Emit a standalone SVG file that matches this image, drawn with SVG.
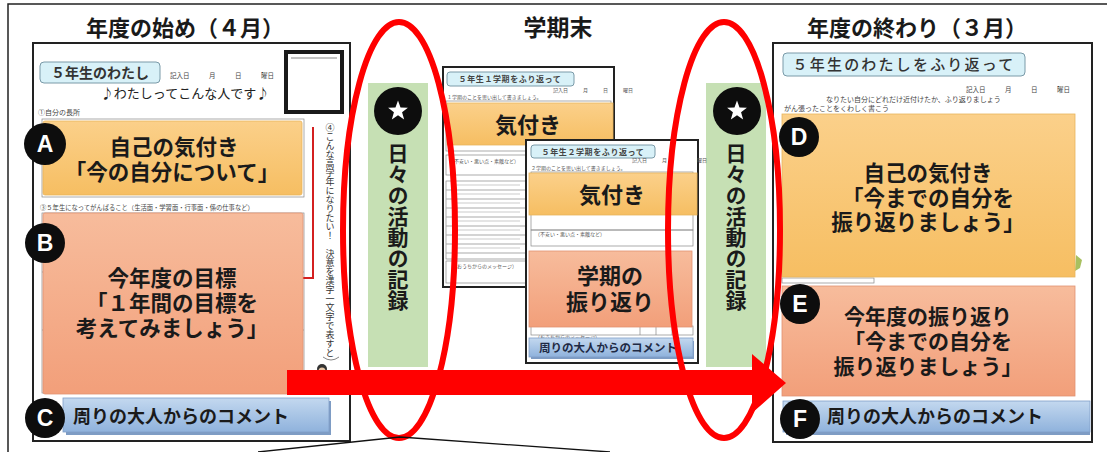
<svg xmlns="http://www.w3.org/2000/svg" width="1107" height="452" viewBox="0 0 1107 452">
<defs>
<linearGradient id="gO" x1="0" y1="0" x2="0" y2="1"><stop offset="0" stop-color="#fbd08a"/><stop offset="1" stop-color="#f6be62"/></linearGradient>
<linearGradient id="gS" x1="0" y1="0" x2="0" y2="1"><stop offset="0" stop-color="#f7bc9c"/><stop offset="1" stop-color="#f29f7a"/></linearGradient>
<linearGradient id="gB" x1="0" y1="0" x2="0" y2="1"><stop offset="0" stop-color="#c3d8ef"/><stop offset="1" stop-color="#8fb2dc"/></linearGradient>
<symbol id="star" viewBox="-10 -10 20 20"><polygon points="0,-9.5 2.3,-3.1 9,-2.9 3.7,1.2 5.6,7.7 0,3.9 -5.6,7.7 -3.7,1.2 -9,-2.9 -2.3,-3.1" fill="#fff"/></symbol>
</defs>
<style>
text{font-family:"Noto Sans CJK JP","Noto Sans CJK SC",sans-serif;fill:#1a1a1a}
.t{font-size:21.5px;font-weight:700;text-anchor:middle}
.h{font-size:22px;font-weight:700;text-anchor:middle}
.bd{font-size:18px;font-weight:700}
.s{font-size:5px;fill:#555}
.m{font-size:7px;fill:#444}
.sheet{fill:#fff;stroke:#222;stroke-width:2}
.lab{fill:#d8f1f8;stroke:#7a9aa8;stroke-width:1}
.ora{fill:url(#gO);stroke:#e8b45c;stroke-width:0.8}
.sal{fill:url(#gS);stroke:#e29272;stroke-width:0.8}
.blu{fill:url(#gB);stroke:#7f9fc8;stroke-width:0.8}
.grn{fill:#c6e0b4}
.row{fill:none;stroke:#888;stroke-width:0.7}
.dash{stroke:#aaa;stroke-width:1.2}
.badge{fill:#0d0d0d}
.bl{font-family:"Liberation Sans",Arial,sans-serif;font-size:23px;font-weight:700;fill:#fff;text-anchor:middle}
.ell{fill:none;stroke:#ff0000;stroke-width:6}
.vt{writing-mode:vertical-rl;font-size:21px;font-weight:700}
</style>

<!-- outer frame -->
<rect x="8" y="4" width="1120" height="470" fill="#fff" stroke="#222" stroke-width="1.5"/>

<!-- titles -->
<g id="titles">
<text class="h" x="185" y="36">年度の始め（４月）</text>
<text class="h" x="558" y="36" style="font-size:23px">学期末</text>
<text class="h" x="917" y="36">年度の終わり（３月）</text>
</g>

<!-- left sheet -->
<g id="sheet-april">
<rect class="sheet" x="33" y="43" width="317" height="398" stroke-width="1.5"/>
<rect class="lab" x="40" y="62" width="120" height="21" rx="4"/>
<text x="100" y="78" style="font-size:14px;font-weight:700;text-anchor:middle;fill:#333">５年生のわたし</text>
<text class="m" x="170" y="78" style="font-size:6.5px">記入日　　　月　　　日　　　曜日</text>
<text x="185" y="98" style="font-size:13px;text-anchor:middle;fill:#222">♪わたしってこんな人です♪</text>
<text class="m" x="38" y="115">①自分の長所</text>
<rect x="286" y="52" width="56" height="60" fill="#fff" stroke="#1a1a1a" stroke-width="4"/>
<line x1="291" y1="58" x2="337" y2="58" stroke="#888" stroke-width="1.2"/>
<rect class="row" x="42" y="119" width="262" height="78"/>
<text class="m" x="40" y="210" style="font-size:6.3px">③５年生になってがんばること（生活面・学習面・行事面・係の仕事など）</text>
<rect class="row" x="42" y="213" width="262" height="180"/>
<line x1="42" y1="272" x2="304" y2="272" class="row"/>
<line x1="42" y1="330" x2="304" y2="330" class="row"/>
<polyline points="313,127 313,278 303,278" fill="none" stroke="#d42020" stroke-width="2"/>
<text x="330" y="123" style="writing-mode:vertical-rl;font-size:9px;fill:#333">④こんな高学年になりたい！　決意を漢字一文字で表すと</text>
<path d="M323,357 q8,6 16,0" fill="none" stroke="#666" stroke-width="0.8"/>
<circle cx="322" cy="369" r="5" fill="#333"/>
<circle cx="322" cy="371" r="3.5" fill="#e8c9a8"/>
</g>

<g id="nodeA">
<rect class="ora" x="43" y="121" width="259" height="74" rx="2"/>
<text class="t" x="174" y="155">自己の気付き</text>
<text class="t" x="172" y="180">「今の自分について」</text>
<circle class="badge" cx="45" cy="144" r="21"/><text class="bl" x="45" y="152">A</text>
</g>
<g id="nodeB">
<rect class="sal" x="43" y="213" width="260" height="181" rx="2"/>
<text class="t" x="172" y="286">今年度の目標</text>
<text class="t" x="172" y="311">「１年間の目標を</text>
<text class="t" x="172" y="336">考えてみましょう」</text>
<circle class="badge" cx="45" cy="243" r="20"/><text class="bl" x="45" y="251">B</text>
</g>
<g id="nodeC">
<rect x="66" y="401" width="265" height="34" fill="#7e9cc4"/>
<rect class="blu" x="63" y="398" width="266" height="34"/>
<text class="bd" x="73" y="423">周りの大人からのコメント</text>
<circle class="badge" cx="45" cy="418" r="20"/><text class="bl" x="45" y="426">C</text>
</g>

<!-- green bars -->
<g id="daily-left">
<rect class="grn" x="368" y="83" width="60" height="284"/>
<circle class="badge" cx="398" cy="111" r="24"/>
<use href="#star" x="387" y="100" width="22" height="22"/>
<text class="vt" x="398" y="143">日々の活動の記録</text>
</g>
<g id="daily-right">
<rect class="grn" x="706" y="83" width="60" height="284"/>
<circle class="badge" cx="737" cy="111" r="24"/>
<use href="#star" x="726" y="100" width="22" height="22"/>
<text class="vt" x="736" y="143">日々の活動の記録</text>
</g>

<!-- middle sheet 1 -->
<g id="sheet-term1">
<rect class="sheet" x="443" y="67" width="171" height="220"/>
<rect class="lab" x="447" y="72" width="127" height="14" rx="3"/>
<text x="510" y="82" style="font-size:8px;font-weight:700;text-anchor:middle;fill:#444;letter-spacing:0.6px">５年生１学期をふり返って</text>
<text class="s" x="553" y="92">記入日　　　月　　　日　　　曜日</text>
<text class="s" x="447" y="99">１学期のことを思い出して書きましょう。</text>
<rect class="row" x="446" y="101" width="165" height="50"/>
<rect class="row" x="446" y="155" width="165" height="20"/>
<text class="s" x="449" y="163">（不安い・悪い点・素敵など）</text>
<rect class="row" x="446" y="181" width="165" height="78"/>
<g class="dash">
<line x1="446" y1="190" x2="526" y2="190"/><line x1="446" y1="199" x2="526" y2="199"/><line x1="446" y1="208" x2="526" y2="208"/><line x1="446" y1="217" x2="526" y2="217"/><line x1="446" y1="226" x2="526" y2="226"/><line x1="446" y1="235" x2="526" y2="235"/><line x1="446" y1="244" x2="526" y2="244"/><line x1="446" y1="253" x2="526" y2="253"/>
<line x1="452" y1="185" x2="520" y2="185" stroke="#ccc"/><line x1="452" y1="194" x2="520" y2="194" stroke="#ccc"/><line x1="452" y1="203" x2="520" y2="203" stroke="#ccc"/><line x1="452" y1="212" x2="520" y2="212" stroke="#ccc"/><line x1="452" y1="221" x2="520" y2="221" stroke="#ccc"/><line x1="452" y1="230" x2="520" y2="230" stroke="#ccc"/><line x1="452" y1="239" x2="520" y2="239" stroke="#ccc"/><line x1="452" y1="248" x2="520" y2="248" stroke="#ccc"/>
</g>
<rect class="row" x="446" y="261" width="165" height="22"/>
<text class="s" x="452" y="268">（おうちからのメッセージ）</text>
</g>
<g id="node-kizuki1">
<rect class="ora" x="447" y="103" width="166" height="42"/>
<text class="t" x="528" y="133" style="font-size:22px">気付き</text>
</g>

<!-- middle sheet 2 -->
<g id="sheet-term2">
<rect class="sheet" x="526" y="140" width="172" height="223"/>
<rect class="lab" x="531" y="145" width="124" height="13" rx="3"/>
<text x="593" y="155" style="font-size:8px;font-weight:700;text-anchor:middle;fill:#444;letter-spacing:0.6px">５年生２学期をふり返って</text>
<text class="s" x="632" y="162">記入日　　　月　　　　　　曜日</text>
<text class="s" x="531" y="170">２学期のことを思い出して書きましょう。</text>
<rect class="row" x="531" y="172" width="162" height="58"/>
<rect class="row" x="531" y="230" width="162" height="16"/>
<text class="s" x="535" y="236">（不安い・悪い点・素敵など）</text>
<rect class="row" x="531" y="326" width="162" height="9"/>
<line x1="640" y1="326" x2="640" y2="335" class="row"/><line x1="656" y1="326" x2="656" y2="335" class="row"/><line x1="672" y1="326" x2="672" y2="335" class="row"/>
<text class="s" x="535" y="339">（おうちからのメッセージ）</text>
</g>
<g id="node-kizuki2">
<rect class="ora" x="529" y="173" width="168" height="42"/>
<text class="t" x="612" y="203" style="font-size:22px">気付き</text>
</g>
<g id="node-term-review">
<rect class="sal" x="529" y="251" width="163" height="76"/>
<text class="t" x="610" y="284" style="font-size:22px">学期の</text>
<text class="t" x="610" y="310" style="font-size:22px">振り返り</text>
</g>
<g id="node-term-comment">
<rect x="531" y="341" width="163" height="18" fill="#7e9cc4"/>
<rect class="blu" x="529" y="338" width="164" height="19"/>
<text x="608" y="352" style="font-size:11.5px;font-weight:700;text-anchor:middle;fill:#1f2a44">周りの大人からのコメント</text>
</g>

<!-- right sheet -->
<g id="sheet-march">
<rect class="sheet" x="773" y="43" width="319" height="399" stroke-width="1.5"/>
<rect class="lab" x="783" y="53" width="242" height="23" rx="4"/>
<text x="904" y="70" style="font-size:15px;font-weight:500;text-anchor:middle;fill:#333;letter-spacing:2.2px">５年生のわたしをふり返って</text>
<text class="m" x="966" y="92" style="font-size:6.5px">記入日　　　月　　　日　　　曜日</text>
<text class="m" x="826" y="102">なりたい自分にどれだけ近付けたか、ふり返りましょう</text>
<text class="m" x="784" y="111">がん張ったことをくわしく書こう</text>
<rect class="row" x="782" y="278" width="92" height="5"/>
<path d="M1076,255 l6,5 l-2,8 l-5,3 z" fill="#a8c060"/>
</g>
<g id="nodeD">
<rect class="ora" x="782" y="114" width="293" height="163"/>
<text class="t" x="928" y="181">自己の気付き</text>
<text class="t" x="928" y="206">「今までの自分を</text>
<text class="t" x="928" y="230">振り返りましょう」</text>
<circle class="badge" cx="799" cy="137" r="20"/><text class="bl" x="799" y="145">D</text>
</g>
<g id="nodeE">
<rect class="sal" x="782" y="286" width="293" height="110"/>
<text class="t" x="928" y="324" style="font-size:21px">今年度の振り返り</text>
<text class="t" x="928" y="349" style="font-size:21px">「今までの自分を</text>
<text class="t" x="928" y="374" style="font-size:21px">振り返りましょう」</text>
<circle class="badge" cx="800" cy="304" r="20"/><text class="bl" x="800" y="312">E</text>
</g>
<g id="nodeF">
<rect x="786" y="404" width="304" height="31" fill="#7e9cc4"/>
<rect class="blu" x="783" y="401" width="307" height="31"/>
<text class="bd" x="827" y="423">周りの大人からのコメント</text>
<circle class="badge" cx="800" cy="419" r="20"/><text class="bl" x="800" y="427">F</text>
</g>

<!-- connectors -->
<g id="connectors">
<polygon points="287,370 752,370 752,354 786,383 752,413 752,395 287,395" fill="#ff0000"/>
<ellipse class="ell" cx="399" cy="230" rx="56" ry="208"/>
<ellipse class="ell" cx="724" cy="230" rx="56" ry="208"/>
<polyline points="258,452 400,437 610,452" fill="none" stroke="#111" stroke-width="1.3"/>
</g>
</svg>
